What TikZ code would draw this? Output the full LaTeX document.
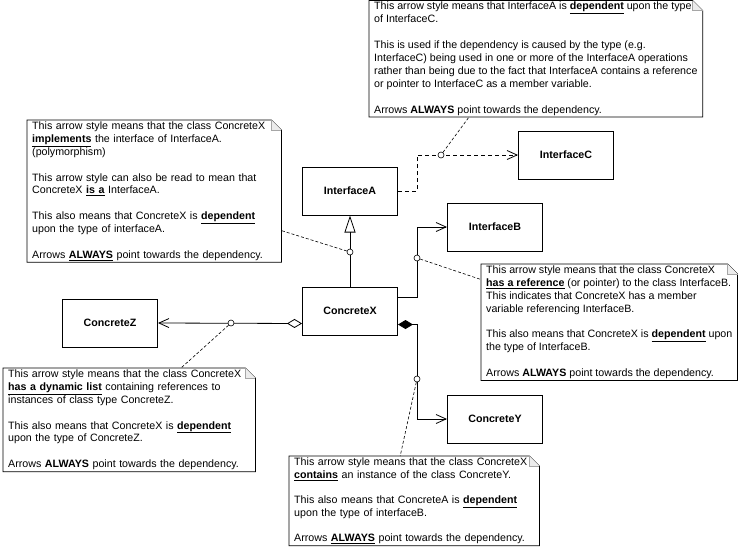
\documentclass[tikz,border=0pt]{standalone}
\usepackage{fontspec}
\setmainfont{Liberation Sans}
\usetikzlibrary{positioning, arrows.meta}

\newcommand{\kw}[1]{\underline{\textbf{#1}}}
% note outline with a folded top right corner
\newcommand{\notefold}[1]{%
  \draw[line] (#1.north west) -- ([xshift=-10pt]#1.north east) -- ([yshift=-10pt]#1.north east) -- (#1.south east) -- (#1.south west) -- cycle;
  \filldraw[fill=gray!15, draw=gray!70, line width=0.5pt] ([xshift=-10pt]#1.north east) -- ([xshift=-10pt,yshift=-10pt]#1.north east) -- ([yshift=-10pt]#1.north east);
}

\begin{document}
\begin{tikzpicture}[
        x=1pt, y=-1pt,
        every node/.style={font=\fontsize{10.67}{12.9}\selectfont},
        classbox/.style={draw, line width=1pt, minimum width=95pt, minimum height=48pt, font=\fontsize{10.67}{12.9}\selectfont\bfseries},
        notebox/.style={align=left, anchor=north west, inner xsep=5pt, inner ysep=1.5pt, fill=white},
        line/.style={line width=0.8pt},
        dep/.style={line, dash pattern=on 4pt off 3pt, -{Straight Barb[length=10pt,width=9pt]}},
        assoc/.style={line, -{Straight Barb[length=10pt,width=9pt]}},
        link/.style={line width=0.6pt, dash pattern=on 3pt off 2pt},
        pin/.style={circle, draw, line width=0.6pt, fill=white, inner sep=0pt, minimum size=6pt}
    ]
        \useasboundingbox (0,0) rectangle (739,549);

        % classes
        \node[classbox] (ifA) at (350,191) {InterfaceA};
        \node[classbox] (ifC) at (566,155) {InterfaceC};
        \node[classbox] (ifB) at (495,227) {InterfaceB};
        \node[classbox] (cX) at (350,311) {ConcreteX};
        \node[classbox] (cZ) at (110,323) {ConcreteZ};
        \node[classbox] (cY) at (495,419) {ConcreteY};

        % notes
        \node[notebox] (noteC) at (369,0.5) {This arrow style means that InterfaceA is \kw{dependent} upon the type\\
            of InterfaceC.\\[12.9pt]
            This is used if the dependency is caused by the type (e.g.\\
            InterfaceC) being used in one or more of the InterfaceA operations\\
            rather than being due to the fact that InterfaceA contains a reference\\
            or pointer to InterfaceC as a member variable.\\[12.9pt]
            Arrows \textbf{ALWAYS} point towards the dependency.};
        \node[notebox, text width=244pt] (noteA) at (27,120) {This arrow style means that the class ConcreteX\\
            \kw{implements} the interface of InterfaceA.\\
            (polymorphism)\\[12.9pt]
            This arrow style can also be read to mean that\\
            ConcreteX \kw{is a} InterfaceA.\\[12.9pt]
            This also means that ConcreteX is \kw{dependent}\\
            upon the type of interfaceA.\\[12.9pt]
            Arrows \kw{ALWAYS} point towards the dependency.};
        \node[notebox] (noteB) at (481,264) {This arrow style means that the class ConcreteX\\
            \kw{has a reference} (or pointer) to the class InterfaceB.\\
            This indicates that ConcreteX has a member\\
            variable referencing InterfaceB.\\[12.9pt]
            This also means that ConcreteX is \kw{dependent} upon\\
            the type of InterfaceB.\\[12.9pt]
            Arrows \textbf{ALWAYS} point towards the dependency.};
        \node[notebox, text width=242pt] (noteZ) at (3,368) {This arrow style means that the class ConcreteX\\
            \kw{has a dynamic list} containing references to\\
            instances of class type ConcreteZ.\\[12.9pt]
            This also means that ConcreteX is \kw{dependent}\\
            upon the type of ConcreteZ.\\[12.9pt]
            Arrows \textbf{ALWAYS} point towards the dependency.};
        \node[notebox, text width=240pt] (noteY) at (289,456) {This arrow style means that the class ConcreteX\\
            \kw{contains} an instance of the class ConcreteY.\\[12.4pt]
            This also means that ConcreteA is \kw{dependent}\\
            upon the type of interfaceB.\\[12.4pt]
            Arrows \kw{ALWAYS} point towards the dependency.};
        \notefold{noteC}
        \notefold{noteA}
        \notefold{noteB}
        \notefold{noteZ}
        \notefold{noteY}

        % relations
        \draw[dep] (ifA.east) -- ++(19,0) |- (ifC.west);
        \draw[line, -{Triangle[open, length=17pt, width=11pt]}] (cX) -- (ifA);
        \draw[assoc] ([yshift=-11pt]cX.north east) -- ++(19,0) |- (ifB.west);
        \draw[line, {Diamond[length=15pt,width=9pt]}-{Straight Barb[length=10pt,width=9pt]}] ([yshift=11pt]cX.south east) -- ++(19,0) |- (cY.west);
        \draw[line, {Diamond[open,length=15pt,width=9pt]}-{Straight Barb[length=10pt,width=9pt]}] ([yshift=12pt]cX.south west) -- (cZ.east);

        % pins and note links
        \node[pin] (pinC) at (441,155) {};
        \node[pin] (pinA) at (350,252) {};
        \node[pin] (pinB) at (417,258) {};
        \node[pin] (pinY) at (417,379) {};
        \node[pin] (pinZ) at (231,323) {};
        \draw[link] (pinC) -- ([xshift=100pt]noteC.south west);
        \draw[link] (pinA) -- (noteA);
        \draw[link] (pinB) -- (noteB);
        \draw[link] (pinY) -- ([xshift=-14pt]noteY.north);
        \draw[link] (pinZ) -- ([xshift=178pt]noteZ.north west);
    \end{tikzpicture}
\end{document}
